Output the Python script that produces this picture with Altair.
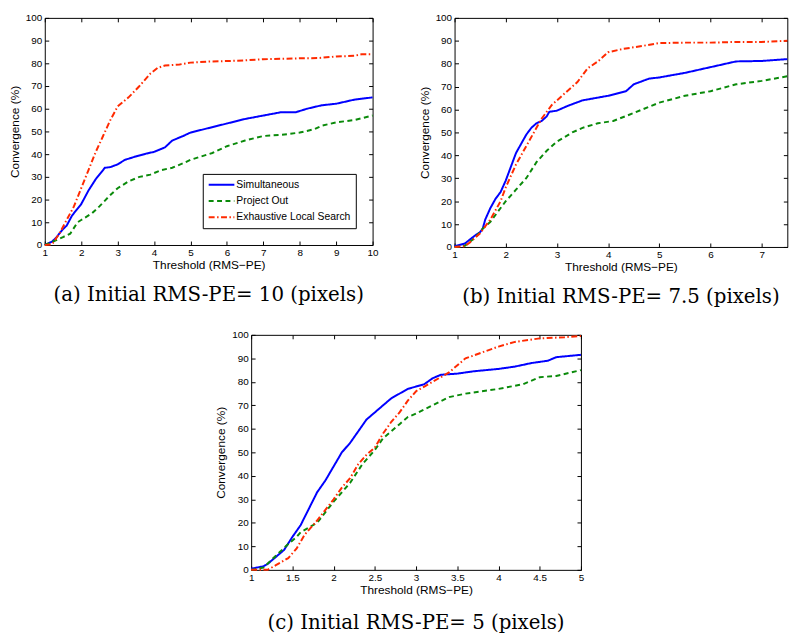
import altair as alt
import pandas as pd

SERIES = ["Simultaneous", "Project Out", "Exhaustive Local Search"]
COLORS = ["#0000ff", "#0a8a0a", "#ff2a00"]
DASHES = [[1, 0], [5, 3.5], [6, 2.5, 1.5, 2.5]]

# ---- panel (a): Initial RMS-PE = 10 ----
a_sim_x = [1, 1.2, 1.3, 1.5, 1.6, 1.75, 2.0, 2.2, 2.4, 2.6, 2.65, 2.8, 3.0, 3.2, 3.5, 3.8, 4.0, 4.3, 4.5, 4.8, 5.0, 5.5, 6.0, 6.5, 7.0, 7.5, 7.9, 8.2, 8.6, 9.0, 9.5, 10]
a_sim_y = [0, 1.5, 3, 7, 8.5, 13, 18, 24, 29, 33, 34, 34.3, 35.5, 37.5, 39, 40.3, 41, 43, 46, 48, 49.5, 51.5, 53.5, 55.5, 57, 58.5, 58.5, 60, 61.5, 62.2, 64, 65]
a_po_x = [1, 1.3, 1.5, 1.7, 1.9, 2.0, 2.3, 2.5, 2.8, 3.0, 3.3, 3.6, 3.9, 4.2, 4.5, 4.8, 5.0, 5.3, 5.6, 6.0, 6.5, 7.0, 7.5, 8.0, 8.4, 8.6, 9.0, 9.5, 10]
a_po_y = [0, 2, 3.5, 5, 10, 11, 14, 17, 22, 25, 28, 30, 31, 33, 34, 36, 37.5, 39, 40.5, 43.5, 46, 48, 48.5, 49.5, 51, 52.5, 54, 55, 57]
a_els_x = [1, 1.2, 1.4, 1.6, 1.8, 2.0, 2.2, 2.4, 2.6, 2.8, 3.0, 3.3, 3.6, 3.9, 4.1, 4.3, 4.7, 5.0, 5.5, 6.0, 6.5, 7.0, 7.5, 8.0, 8.5, 9.0, 9.5, 9.7, 10]
a_els_y = [0, 0.3, 5, 11, 17, 25, 33, 41, 48, 55, 61, 65, 70, 75.5, 78, 79, 79.5, 80.3, 80.8, 81, 81.3, 81.8, 82, 82.2, 82.3, 83, 83.3, 84, 84]

# ---- panel (b): Initial RMS-PE = 7.5 ----
b_sim_x = [1, 1.2, 1.4, 1.5, 1.55, 1.6, 1.7, 1.8, 1.9, 2.0, 2.1, 2.2, 2.3, 2.4, 2.5, 2.6, 2.7, 2.8, 2.85, 3.0, 3.2, 3.5, 4.0, 4.35, 4.5, 4.8, 5.0, 5.5, 6.0, 6.5, 7.0, 7.5]
b_sim_y = [0.3, 1.5, 5, 6.5, 8, 12, 17, 21, 24, 29, 35, 41, 45, 49, 52, 54, 55, 57, 59, 59.5, 61.5, 64, 66, 68, 71, 73.5, 74, 76, 78.5, 81, 81.2, 82]
b_po_x = [1, 1.2, 1.4, 1.55, 1.7, 1.9, 2.0, 2.2, 2.4, 2.6, 2.8, 3.0, 3.3, 3.5, 3.8, 4.1, 4.5, 5.0, 5.5, 6.0, 6.5, 7.0, 7.5]
b_po_y = [0, 0.5, 4, 8, 11, 17, 20, 25, 30, 37, 42, 46, 50, 52, 54, 55, 58.5, 63, 66, 68, 71, 72.5, 74.5]
b_els_x = [1, 1.2, 1.3, 1.5, 1.7, 1.9, 2.0, 2.2, 2.4, 2.6, 2.7, 2.9, 3.0, 3.2, 3.4, 3.6, 3.8, 4.0, 4.3, 4.6, 5.0, 5.5, 6.0, 6.5, 7.0, 7.5]
b_els_y = [0, 0.3, 2, 6, 12, 20, 26, 36, 44, 52, 56, 62, 64, 68, 72, 78, 81, 85, 86.5, 87.5, 89, 89.2, 89.2, 89.5, 89.5, 90]

# ---- panel (c): Initial RMS-PE = 5 ----
c_sim_x = [1.0, 1.15, 1.2, 1.3, 1.4, 1.5, 1.6, 1.7, 1.8, 1.9, 2.0, 2.1, 2.2, 2.3, 2.4, 2.5, 2.6, 2.7, 2.8, 2.9, 3.0, 3.1, 3.2, 3.3, 3.5, 3.7, 4.0, 4.2, 4.4, 4.6, 4.7, 5.0]
c_sim_y = [0.5, 1.5, 2.5, 5.5, 8.5, 14, 19, 26, 33, 38, 44, 50, 54, 59, 64, 67, 70, 73, 75, 77, 78, 79, 81.5, 83, 83.5, 84.5, 85.5, 86.5, 88, 89, 90.5, 91.5]
c_po_x = [1, 1.15, 1.3, 1.45, 1.55, 1.6, 1.7, 1.8, 2.0, 2.2, 2.35, 2.5, 2.6, 2.8, 2.9, 3.0, 3.2, 3.4, 3.6, 3.8, 4.0, 4.3, 4.5, 4.7, 5.0]
c_po_y = [0, 1, 6, 11, 14, 16, 18, 20, 29, 37, 45, 51, 56, 62, 65, 66.5, 70, 73.5, 75, 76, 77, 79, 82, 82.5, 85]
c_els_x = [1, 1.2, 1.3, 1.45, 1.55, 1.65, 1.8, 2.0, 2.1, 2.2, 2.3, 2.4, 2.5, 2.6, 2.7, 2.8, 2.9, 3.0, 3.1, 3.2, 3.4, 3.6, 3.8, 4.0, 4.2, 4.5, 4.8, 5.0]
c_els_y = [0, 0, 2, 5, 9, 15, 21, 30, 35, 39, 45, 49, 52, 58, 63, 67, 72, 76, 78, 80, 84, 90, 92.5, 95, 97, 98.5, 99, 99.5]

Y_TICKS = list(range(0, 101, 10))
A_XTICKS = list(range(1, 11))
B_XTICKS = list(range(1, 8))
C_XTICKS = [1, 1.5, 2, 2.5, 3, 3.5, 4, 4.5, 5]

CAPTIONS = ["(a) Initial RMS-PE= 10 (pixels)",
            "(b) Initial RMS-PE= 7.5 (pixels)",
            "(c) Initial RMS-PE= 5 (pixels)"]

SANS = "Liberation Sans"
SERIF = "'DejaVu Serif', serif"


def make_df(sim_x, sim_y, po_x, po_y, els_x, els_y):
    rows = []
    for name, xs, ys in zip(SERIES, [sim_x, po_x, els_x], [sim_y, po_y, els_y]):
        for i, (x, y) in enumerate(zip(xs, ys)):
            rows.append({"x": x, "y": y, "series": name, "k": i})
    return pd.DataFrame(rows)


TICK = 4
AX = dict(domain=False, grid=False, tickSize=TICK, offset=-TICK, tickColor="black", tickWidth=1,
          labelFont=SANS, labelFontSize=10, labelColor="black",
          titleFont=SANS, titleFontSize=12, titleFontWeight="normal", titleColor="black")


def panel(df, xdom, xticks, w, h, caption, cap_offset, show_legend):
    xs = alt.Scale(domain=xdom, nice=False, zero=False)
    ys = alt.Scale(domain=[0, 100], nice=False, zero=False)
    if show_legend:
        leg = alt.Legend(title=None, orient="none", legendX=160, legendY=158,
                         symbolType="stroke", symbolSize=676, symbolStrokeWidth=2,
                         clipHeight=12, rowPadding=4.5, padding=5, labelOffset=1,
                         labelFont=SANS, labelFontSize=10.5, labelColor="black",
                         strokeColor="black", fillColor="white")
    else:
        leg = None
    lines = alt.Chart(df).mark_line(strokeWidth=2).encode(
        x=alt.X("x:Q", scale=xs,
                axis=alt.Axis(values=xticks, title="Threshold (RMS\u2212PE)", orient="bottom",
                              labelPadding=3, titlePadding=2, labelExpr="datum.value",
                              labelFlush=False, **AX)),
        y=alt.Y("y:Q", scale=ys,
                axis=alt.Axis(values=Y_TICKS, title="Convergence (%)", orient="left",
                              labelPadding=3, titlePadding=4, labelFlush=False, **AX)),
        color=alt.Color("series:N", scale=alt.Scale(domain=SERIES, range=COLORS), legend=leg),
        strokeDash=alt.StrokeDash("series:N", scale=alt.Scale(domain=SERIES, range=DASHES), legend=leg),
        order="k:Q",
    )
    frame = alt.Chart(df).mark_point(opacity=0).encode(
        x=alt.X("x:Q", scale=xs,
                axis=alt.Axis(values=xticks, title=None, orient="top", labels=False, **AX)),
        y=alt.Y("y:Q", scale=ys,
                axis=alt.Axis(values=Y_TICKS, title=None, orient="right", labels=False, **AX)),
    )
    return alt.layer(lines, frame).resolve_axis(x="independent", y="independent").properties(
        width=w, height=h,
        title=alt.TitleParams(caption, orient="bottom", font=SERIF, fontSize=20,
                              fontWeight="normal", color="black", offset=cap_offset, anchor="middle"),
    )


pa = panel(make_df(a_sim_x, a_sim_y, a_po_x, a_po_y, a_els_x, a_els_y), [1, 10], A_XTICKS, 332, 230, CAPTIONS[0], 15, True)
pb = panel(make_df(b_sim_x, b_sim_y, b_po_x, b_po_y, b_els_x, b_els_y), [1, 7.5], B_XTICKS, 337, 232, CAPTIONS[1], 15, False)
pc = panel(make_df(c_sim_x, c_sim_y, c_po_x, c_po_y, c_els_x, c_els_y), [1, 5], C_XTICKS, 334, 238, CAPTIONS[2], 18, False)

top = alt.hconcat(pa, pb, spacing=38).resolve_scale(
    color="independent", strokeDash="independent").resolve_legend(
    color="independent", strokeDash="independent")
chart = alt.vconcat(top, pc, spacing=21, center=True).resolve_scale(
    color="independent", strokeDash="independent").resolve_legend(
    color="independent", strokeDash="independent").properties(
    padding={"left": 0, "top": 0, "right": 0, "bottom": 0}, background="white"
).configure_view(stroke="black", strokeWidth=1)

chart.save("out.html", embed_options={"renderer": "svg", "actions": False})
